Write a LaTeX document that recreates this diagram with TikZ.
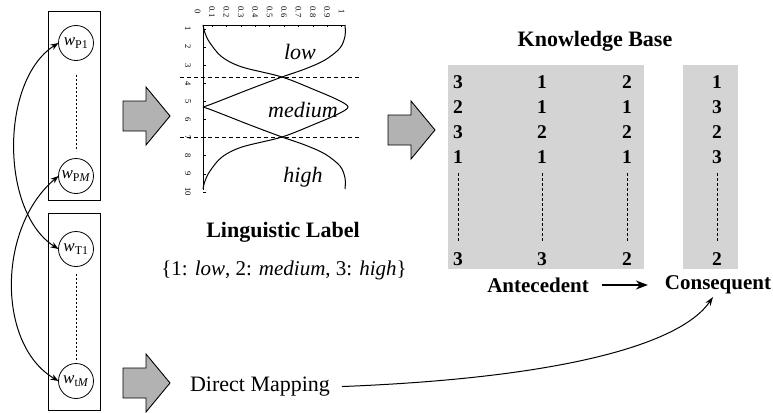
\documentclass[tikz,border=0pt]{standalone}
\usepackage{fontspec}
\setmainfont{Liberation Serif}
\usetikzlibrary{arrows.meta}

\begin{document}
\begin{tikzpicture}[x=1pt,y=-1pt,
  every node/.style={inner sep=0pt, outer sep=0pt},
  lbl/.style={font=\fontsize{22}{24}\selectfont},
  legendlbl/.style={font=\fontsize{21}{23}\selectfont},
  bl/.style={font=\fontsize{22}{24}\selectfont\bfseries},
  blsmall/.style={font=\fontsize{21}{23}\selectfont\bfseries},
  curvelbl/.style={font=\fontsize{22}{24}\selectfont\itshape},
  num/.style={font=\fontsize{19.5}{20}\selectfont\bfseries},
  ticklbl/.style={font=\fontsize{8.5}{9}\selectfont, rotate=-90},
  wcirc/.style={draw, circle, minimum size=35pt, line width=0.8pt, font=\fontsize{17}{18}\selectfont},
  frame/.style={draw, line width=0.8pt},
  panel/.style={fill=black!17},
  dotv/.style={line width=0.9pt, dash pattern=on 2pt off 2pt},
  kbdash/.style={line width=1pt, dash pattern=on 3pt off 2pt},
  memb/.style={line width=1pt},
  guide/.style={line width=0.9pt, dash pattern=on 4pt off 3pt},
  link/.style={line width=1pt, {Stealth[length=8pt,width=6pt]}-{Stealth[length=8pt,width=6pt]}},
  maparrow/.style={line width=1pt, -{Stealth[length=9pt,width=6pt]}},
  kbarrow/.style={line width=1.6pt, -{Stealth[length=12pt,width=9pt]}},
  blockarrow/.pic={\draw[line width=0.9pt, fill=black!30]
      (0,-15) -- (23,-15) -- (23,-29) -- (47,0) -- (23,29) -- (23,15) -- (0,15) -- cycle;}
]
\fill[white] (0,0) rectangle (773,412);
\useasboundingbox (0,0) rectangle (773,412);

% ---- weight groups -------------------------------------------------
\node[frame, minimum width=52pt, minimum height=189pt] (boxP) at (74,105.5) {};
\node[frame, minimum width=52pt, minimum height=197pt] (boxT) at (74,311.5) {};

\node[wcirc] (wP1) at (76,43)  {\textit{w}\textsubscript{P1}};
\node[wcirc] (wPM) at (76,176) {\textit{w}\textsubscript{P\textit{M}}};
\node[wcirc] (wT1) at (76,249) {\textit{w}\textsubscript{T1}};
\node[wcirc] (wtM) at (76,381) {\textit{w}\textsubscript{t\textit{M}}};

\draw[dotv, shorten <=14pt, shorten >=8pt] (wP1.south) -- (wPM.north);
\draw[dotv, shorten <=7pt, shorten >=3pt] (wT1.south) -- (wtM.north);

\draw[link] (wP1.west) .. controls (0,80) and (0,212) .. (wT1.west);
\draw[link] (wPM.west) .. controls (-3,228) and (-3,345) .. (wtM.west);

% ---- block arrows --------------------------------------------------
\pic at (123,116) {blockarrow};
\pic at (388,130) {blockarrow};
\pic at (123,383) {blockarrow};

% ---- membership functions ------------------------------------------
\draw[line width=0.8pt] (203,190) -- (203,25) -- (345,25);
\foreach \k in {1,...,10} {
  \draw[line width=0.6pt] ({197.6+14.4*\k},25) -- ++(0,2.5);
  \draw[line width=0.6pt] (203,{29+18.1*(\k-1)}) -- ++(2.5,0);
  \node[ticklbl] at (188,{29+18.1*(\k-1)}) {\k};
}
\foreach \t [count=\i from 0] in {0,0.1,0.2,0.3,0.4,0.5,0.6,0.7,0.8,0.9,1}
  \node[ticklbl] at ({197.6+14.4*\i},12) {\t};

\draw[guide] (180,77) -- (360,77);
\draw[guide] (180,137) -- (360,137);

% low
\draw[memb] plot[smooth, tension=0.55] coordinates {
  (345,25) (345,36) (340,48) (325,60) (305,69) (282,77) (250,89) (222,100) (209,105) (203,107)};
% medium
\draw[memb] plot[smooth, tension=0.55] coordinates {
  (203,25) (205,33) (210,43) (222,57) (242,67) (282,77) (315,90) (338,100) (348,107)
  (338,114) (315,124) (282,137) (242,147) (222,157) (210,171) (205,181) (203,189)};
% high
\draw[memb] plot[smooth, tension=0.55] coordinates {
  (203,107) (209,109) (222,114) (250,125) (282,137) (305,145) (325,154) (340,166) (345,178) (345,189)};

\node[curvelbl] (tlow) at (300,52) {low};
\node[curvelbl] (tmed) at (303,110) {medium};
\node[curvelbl] (thigh) at (303,177) {high};

\node[bl] (ling) at (283,232) {Linguistic Label};
\node[legendlbl] (legend) at (284,270) {\{1: \textit{low}, 2: \textit{medium}, 3: \textit{high}\}};

% ---- knowledge base ------------------------------------------------
\node[bl] (kbt) at (595,41) {Knowledge Base};
\node[panel, minimum width=196pt, minimum height=204pt] (ante) at (546,167) {};
\node[panel, minimum width=55pt, minimum height=204pt] (cons) at (710.5,167) {};

\foreach \x/\a/\b/\c/\d/\e in {458/3/2/3/1/3, 542/1/1/2/1/3, 627/2/1/2/1/2, 717/1/3/2/3/2} {
  \node[num] at (\x,82) {\a};
  \node[num] at (\x,107) {\b};
  \node[num] at (\x,132) {\c};
  \node[num] at (\x,157) {\d};
  \node[num] at (\x,259) {\e};
  \draw[kbdash] (\x,173) -- (\x,242);
}

\node[blsmall] (ant) at (538,285) {Antecedent};
\node[blsmall] (con) at (718,285) {Consequent};
\draw[kbarrow, shorten <=13pt, shorten >=17pt] (ant.east) -- (con.west);

% ---- direct mapping ------------------------------------------------
\node[lbl] (dm) at (260,387) {Direct Mapping};
\coordinate (cq) at (713,297);
\draw[maparrow, shorten <=12pt] (dm.east) .. controls (560,378) and (680,345) .. (cq);
\end{tikzpicture}
\end{document}
